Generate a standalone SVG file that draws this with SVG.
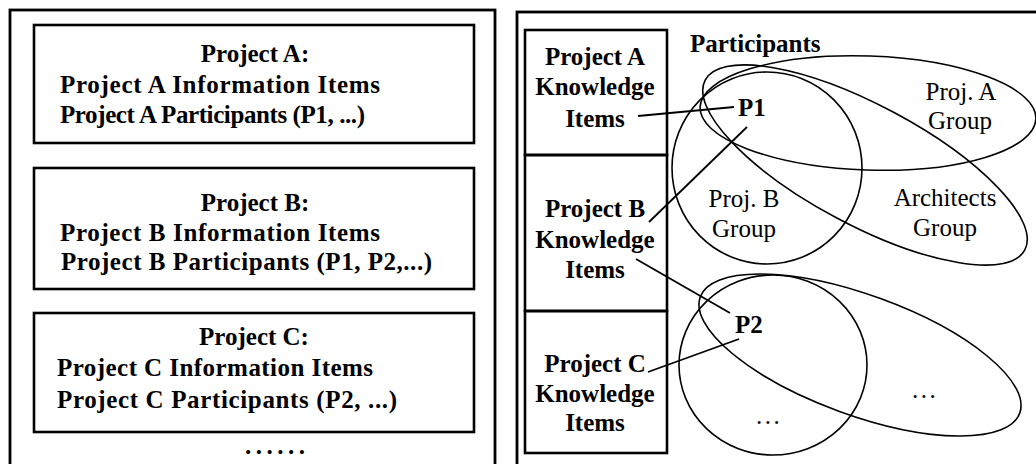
<svg xmlns="http://www.w3.org/2000/svg" width="1036" height="464" viewBox="0 0 1036 464">
<style>
  .panel{fill:none;stroke:#000;stroke-width:2.8}
  .box{fill:none;stroke:#000;stroke-width:2.6}
  .grp{fill:none;stroke:#000;stroke-width:1.6}
  .conn{fill:none;stroke:#000;stroke-width:1.8}
  .b{font-family:"Liberation Serif","Times New Roman",serif;font-weight:bold;font-size:25px;fill:#000}
  .r{font-family:"Liberation Serif","Times New Roman",serif;font-size:25px;fill:#000}
  .c{text-anchor:middle}
</style>
<rect width="1036" height="464" fill="#fff"/>
<g id="left-panel">
  <rect class="panel" x="10" y="10" width="485" height="480"/>
</g>
<g id="project-a">
  <rect class="box" x="34" y="25" width="440" height="118"/>
  <text class="b c" x="255" y="62">Project A:</text>
  <text class="b" x="60" y="93" textLength="320">Project A Information Items</text>
  <text class="b" x="60" y="123" textLength="305">Project A Participants (P1, ...)</text>
</g>
<g id="project-b">
  <rect class="box" x="34" y="168" width="440" height="121"/>
  <text class="b c" x="255" y="211">Project B:</text>
  <text class="b" x="60" y="241" textLength="320">Project B Information Items</text>
  <text class="b" x="61" y="270" textLength="371">Project B Participants (P1, P2,...)</text>
</g>
<g id="project-c">
  <rect class="box" x="34" y="313" width="440" height="119"/>
  <text class="b c" x="254" y="345">Project C:</text>
  <text class="b" x="57" y="376" textLength="316">Project C Information Items</text>
  <text class="b" x="57" y="408" textLength="340">Project C Participants (P2, ...)</text>
</g>
<g id="more-projects">
  <text class="b" x="245" y="454" letter-spacing="4.5">......</text>
</g>
<g id="right-panel">
  <rect class="panel" x="517" y="12" width="540" height="480"/>
</g>
<g id="knowledge-a">
  <rect class="box" x="525" y="30" width="142" height="125"/>
  <text class="b c" x="595" y="65">Project A</text>
  <text class="b c" x="595" y="95">Knowledge</text>
  <text class="b c" x="595" y="127">Items</text>
</g>
<g id="knowledge-b">
  <rect class="box" x="525" y="155" width="142" height="156"/>
  <text class="b c" x="595" y="217">Project B</text>
  <text class="b c" x="595" y="248">Knowledge</text>
  <text class="b c" x="595" y="278">Items</text>
</g>
<g id="knowledge-c">
  <rect class="box" x="525" y="311" width="142" height="142"/>
  <text class="b c" x="595" y="372">Project C</text>
  <text class="b c" x="595" y="402">Knowledge</text>
  <text class="b c" x="595" y="431">Items</text>
</g>
<g id="participants-label">
  <text class="b" x="690" y="52">Participants</text>
</g>
<g id="proj-a-group">
  <ellipse class="grp" cx="868" cy="113" rx="168" ry="57" transform="rotate(2 868 113)"/>
  <text class="r c" x="961" y="100">Proj. A</text>
  <text class="r c" x="960" y="129">Group</text>
</g>
<g id="proj-b-group">
  <ellipse class="grp" cx="767" cy="168" rx="95" ry="96"/>
  <text class="r c" x="744" y="207">Proj. B</text>
  <text class="r c" x="744" y="237">Group</text>
</g>
<g id="architects-group">
  <ellipse class="grp" cx="865" cy="165" rx="181" ry="60" transform="rotate(28 865 165)"/>
  <text class="r c" x="945" y="206">Architects</text>
  <text class="r c" x="945" y="236">Group</text>
</g>
<g id="group-c1">
  <ellipse class="grp" cx="773" cy="365" rx="94" ry="90"/>
  <text class="r" x="756" y="424" letter-spacing="2.5">...</text>
</g>
<g id="group-c2">
  <ellipse class="grp" cx="860" cy="355" rx="170" ry="60" transform="rotate(20 860 355)"/>
  <text class="r" x="912" y="398" letter-spacing="2.5">...</text>
</g>
<g id="p1">
  <text class="b" x="738" y="116" font-size="26">P1</text>
</g>
<g id="p2">
  <text class="b" x="735" y="333" font-size="26">P2</text>
</g>
<g id="connectors">
  <line class="conn" x1="638" y1="116" x2="734" y2="107"/>
  <line class="conn" x1="649" y1="222" x2="747" y2="127"/>
  <line class="conn" x1="636" y1="259" x2="730" y2="313"/>
  <line class="conn" x1="648" y1="372" x2="739" y2="339"/>
</g>
</svg>
